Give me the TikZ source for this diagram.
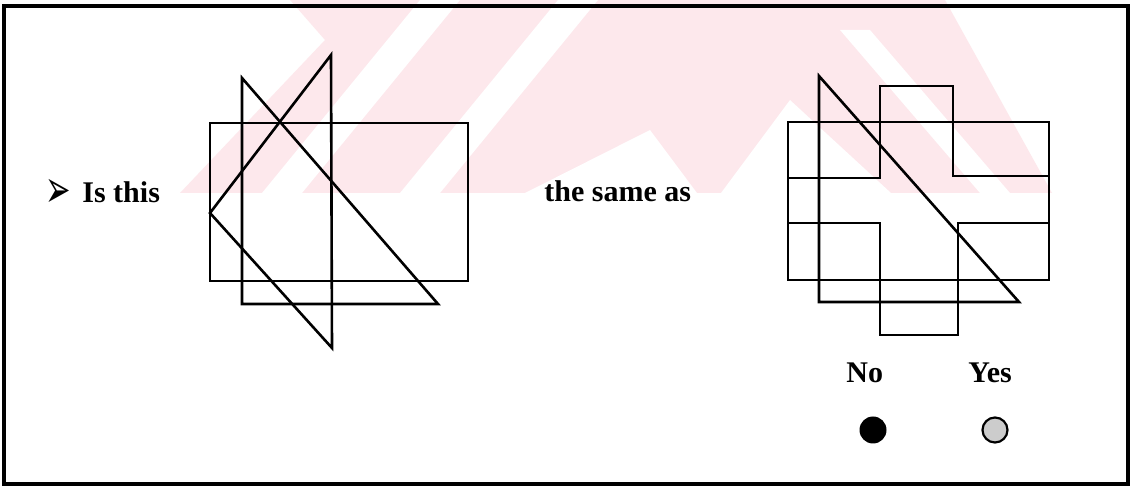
\documentclass[tikz,border=0pt]{standalone}
\usepackage{fontspec}
\setmainfont{Liberation Serif}
\newfontfamily\symfont{DejaVu Sans}
\definecolor{wm}{HTML}{FDE8EC}
\begin{document}
\begin{tikzpicture}[x=0.5pt,y=-0.5pt,
  fig/.style={line width=1.3pt, line join=miter},
  lab/.style={font=\fontsize{15}{18}\selectfont\bfseries, anchor=base west, inner sep=0pt},
  frame/.style={line width=1.6pt}]
\useasboundingbox (0,0) rectangle (1132,486);
\fill[white] (0,0) rectangle (1132,486);
% watermark (faint)
\fill[wm] (180,193) -- (325,40) -- (290,0) -- (945,0) -- (1052,193) -- cycle;
\fill[white] (262,193) -- (420,0) -- (460,0) -- (302,193) -- cycle;
\fill[white] (400,193) -- (558,0) -- (598,0) -- (440,193) -- cycle;
\fill[white] (525,193) -- (650,130) -- (697,193) -- cycle;
\fill[white] (721,193) -- (790,100) -- (891,193) -- cycle;
\fill[white] (840,30) -- (870,30) -- (1010,193) -- (980,193) -- cycle;
% frame
\draw[frame] (4,6) rectangle (1128,484);
% left figure
\draw[fig] (210,123) rectangle (468,281);
\draw[fig] (242,78) -- (242,304) -- (438,304) -- cycle;
\draw[fig] (331,55) -- (210,213) -- (332,348) -- cycle;
% right figure
\draw[fig] (788,122) rectangle (1049,280);
\draw[fig] (880,86) -- (953,86) -- (953,176) -- (1049,176) -- (1049,223) -- (958,223)
  -- (958,335) -- (880,335) -- (880,223) -- (788,223) -- (788,178) -- (880,178) -- cycle;
\draw[fig] (819,76) -- (819,302) -- (1019,302) -- cycle;
% texts
\node[inner sep=0pt] (bullet) at (58.5,193) {\scalebox{1.27}[2.2]{\symfont\fontsize{12}{14}\selectfont ➢}};
\node[lab] (q1) at (82,203) {Is this};
\node[lab] (q2) at (544,202) {the same as};
\node[lab] (no) at (846,383) {No};
\node[lab] (yes) at (968,383) {Yes};
% answer dots
\fill[black] (873,430) circle (13.5);
\filldraw[draw=black, line width=1.1pt, fill=gray!40] (995,430) circle (12.5);
\end{tikzpicture}
\end{document}
